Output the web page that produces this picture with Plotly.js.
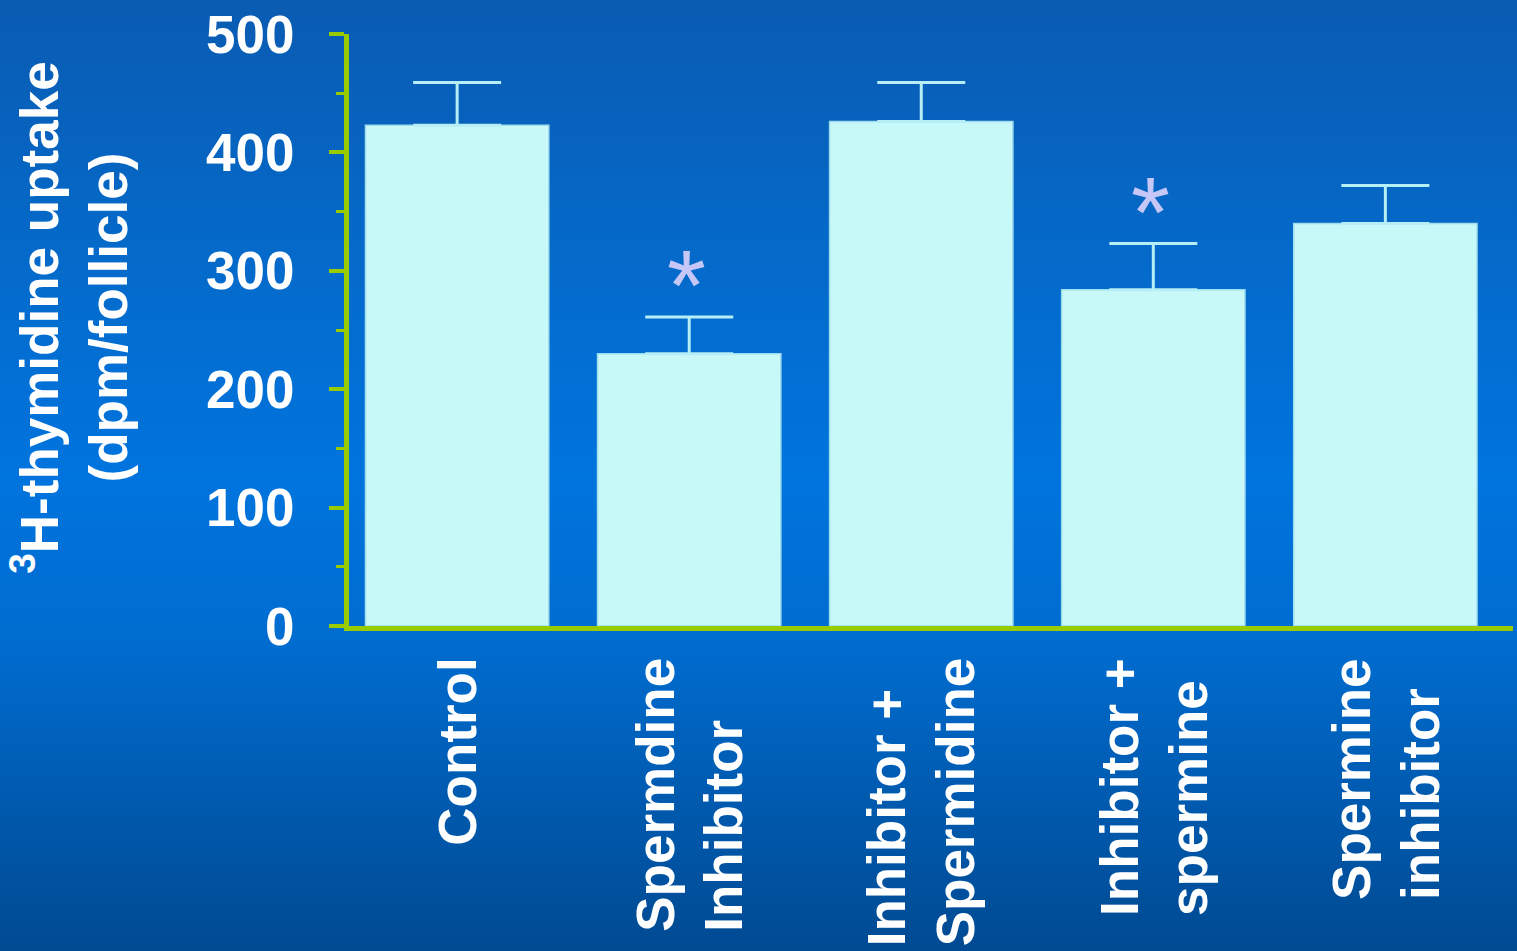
<!DOCTYPE html>
<html>
<head>
<meta charset="utf-8">
<script src="https://cdn.plot.ly/plotly-3.0.1.min.js"></script>
<style>
  html, body { margin: 0; padding: 0; }
  body {
    width: 1517px; height: 951px; overflow: hidden;
    background: linear-gradient(to bottom, #0a5bb2 0%, #0569c8 25%, #0074de 50%, #006ccf 68%, #0059ad 85%, #004a92 100%);
  }
  #chart { width: 1517px; height: 951px; }
</style>
</head>
<body>
<div id="chart"></div>
<script>
const categories = ["Control", "Spermdine<br>Inhibitor", "Inhibitor +<br>Spermidine", "Inhibitor +<br>spermine", "Spermine<br>inhibitor"];
const uptake = [423, 230, 426, 284, 340];
const sem = [36, 31, 33, 39, 32];
const significant = [false, true, false, true, false];
const yTicks = [0, 100, 200, 300, 400, 500];
const yTitle = "<sup>3</sup>H-thymidine uptake<br>(dpm/follicle)";

const FONT = "Liberation Sans, Arial, sans-serif";
const idx = categories.map((_, i) => i);

const trace = {
  type: "bar",
  x: idx,
  y: uptake,
  width: 0.79,
  marker: { color: "#c8f9f9", line: { color: "#9fdcec", width: 1.5 } },
  error_y: {
    type: "data", symmetric: false, array: sem, arrayminus: sem.map(() => 0),
    color: "#b5eef5", thickness: 3, width: 44
  },
  hoverinfo: "skip"
};

const annotations = [];
categories.forEach((c, i) => {
  annotations.push({
    x: i, xref: "x", y: -0.05, yref: "paper",
    text: c, showarrow: false, textangle: -90,
    xanchor: "center", yanchor: "top", align: "left",
    font: { family: FONT, size: 53, color: "#ffffff", weight: "bold" }
  });
  if (significant[i]) {
    annotations.push({
      x: i, xref: "x", y: uptake[i] + sem[i], yref: "y",
      text: "*", showarrow: false, xshift: -3, yshift: -26,
      xanchor: "center", yanchor: "bottom",
      font: { family: FONT, size: 100, color: "#c6c6f7" }
    });
  }
});
annotations.push({
  x: -0.24, xref: "paper", y: 0.52, yref: "paper",
  text: yTitle, showarrow: false, textangle: -90,
  xanchor: "center", yanchor: "middle", align: "center",
  font: { family: FONT, size: 53, color: "#ffffff", weight: "bold" }
});

const layout = {
  width: 1517, height: 951,
  paper_bgcolor: "rgba(0,0,0,0)",
  plot_bgcolor: "rgba(0,0,0,0)",
  margin: { l: 349, r: 4, t: 34, b: 325 },
  showlegend: false,
  font: { family: FONT, color: "#ffffff" },
  xaxis: {
    range: [-0.466, 4.55], tickvals: idx, showticklabels: false,
    ticks: "", showgrid: false, zeroline: false,
    showline: true, linecolor: "#99cc00", linewidth: 5, fixedrange: true
  },
  yaxis: {
    range: [0, 500], tickvals: yTicks, ticktext: yTicks.map(String),
    ticks: "outside", ticklen: 15, tickwidth: 4, tickcolor: "#99cc00",
    minor: { dtick: 50, ticks: "outside", ticklen: 8, tickwidth: 3, tickcolor: "#99cc00" },
    ticklabelstandoff: 24,
    tickfont: { family: FONT, size: 53, color: "#ffffff", weight: "bold" },
    showgrid: false, zeroline: false,
    showline: true, linecolor: "#99cc00", linewidth: 5, fixedrange: true
  },
  annotations: annotations
};

Plotly.newPlot("chart", [trace], layout, { displayModeBar: false, staticPlot: true });
</script>
</body>
</html>
